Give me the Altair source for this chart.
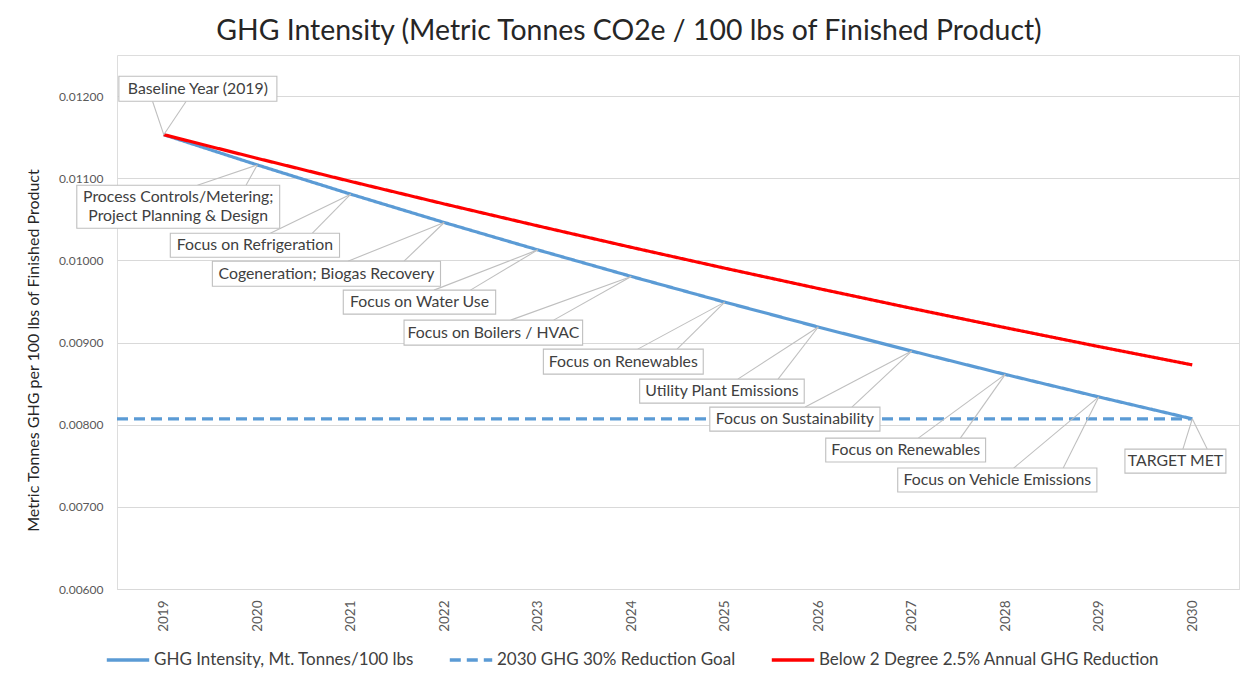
import altair as alt
import pandas as pd

# ---- series data ----
years = [2019, 2020, 2021, 2022, 2023, 2024, 2025, 2026, 2027, 2028, 2029, 2030]
ghg_intensity = [0.01153, 0.011162, 0.010806, 0.010461, 0.010128, 0.009805,
                 0.009492, 0.009189, 0.008896, 0.008612, 0.008338, 0.008071]
goal_2030 = [0.00807, 0.00807, 0.00807, 0.00807, 0.00807, 0.00807,
             0.00807, 0.00807, 0.00807, 0.00807, 0.00807, 0.00807]
below_2deg = [0.01153, 0.011242, 0.010961, 0.010687, 0.010420, 0.010159,
              0.009905, 0.009658, 0.009416, 0.009181, 0.008951, 0.008728]
series_names = ["GHG Intensity, Mt. Tonnes/100 lbs",
                "2030 GHG 30% Reduction Goal",
                "Below 2 Degree 2.5% Annual GHG Reduction"]

y_ticks = [0.006, 0.007, 0.008, 0.009, 0.010, 0.011, 0.012]

# ---- callouts (box extents and leader bases in data units) ----
callout_text = ["Baseline Year (2019)",
                "Process Controls/Metering;\nProject Planning & Design",
                "Focus on Refrigeration",
                "Cogeneration; Biogas Recovery",
                "Focus on Water Use",
                "Focus on Boilers / HVAC",
                "Focus on Renewables",
                "Utility Plant Emissions",
                "Focus on Sustainability",
                "Focus on Renewables",
                "Focus on Vehicle Emissions",
                "TARGET MET"]
box_x1 = [2018.52, 2018.07, 2019.07, 2019.52, 2020.92, 2021.57, 2023.06, 2024.09, 2024.84, 2026.08, 2026.85, 2029.28]
box_x2 = [2020.21, 2020.24, 2020.88, 2021.96, 2022.55, 2023.48, 2024.77, 2025.85, 2026.66, 2027.79, 2028.98, 2030.36]
box_top = [0.012241, 0.010915, 0.010331, 0.009990, 0.009638, 0.009273, 0.008920, 0.008555, 0.008214, 0.007837, 0.007472, 0.007703]
box_bottom = [0.011937, 0.010392, 0.010039, 0.009686, 0.009346, 0.008968, 0.008616, 0.008263, 0.007922, 0.007545, 0.007180, 0.007411]
leader_x1 = [2018.88, 2019.36, 2020.14, 2020.97, 2021.89, 2022.71, 2024.07, 2025.14, 2025.86, 2027.07, 2028.09, 2029.90]
leader_x2 = [2019.24, 2019.88, 2020.59, 2021.57, 2022.28, 2023.17, 2024.49, 2025.57, 2026.36, 2027.52, 2028.62, 2030.16]
leader_base = [0.011937, 0.010915, 0.010331, 0.009990, 0.009638, 0.009273, 0.008920, 0.008555, 0.008214, 0.007837, 0.007472, 0.007703]
line_step = 0.000232  # spacing between the two text lines of a callout, in y units

FONT = "Lato"
BLUE = "#5B9BD5"
RED = "#FF0000"
GREY = "#BFBFBF"
X_DOMAIN = [2018.5, 2030.5]

# ---- tables ----
rows = []
for name, vals in zip(series_names, [ghg_intensity, goal_2030, below_2deg]):
    for yr, v in zip(years, vals):
        rows.append({"series": name, "year": yr, "value": v})
lines_df = pd.DataFrame(rows)

# the goal line in the reference runs from the left edge of the plot
goal_df = pd.DataFrame({"x0": [X_DOMAIN[0]], "x1": [years[-1]], "v": [goal_2030[0]],
                        "series": [series_names[1]]})

boxes_df = pd.DataFrame({"x1": box_x1, "x2": box_x2, "top": box_top, "bottom": box_bottom})

text_rows = []
for lab, a, b, t, bt in zip(callout_text, box_x1, box_x2, box_top, box_bottom):
    parts = lab.split("\n")
    n = len(parts)
    for k, p in enumerate(parts):
        text_rows.append({"label": p, "xc": (a + b) / 2,
                          "yc": (t + bt) / 2 + ((n - 1) / 2 - k) * line_step})
text_df = pd.DataFrame(text_rows)

lead_rows = []
for yr, apex, xa, xb, yb in zip(years, ghg_intensity, leader_x1, leader_x2, leader_base):
    lead_rows.append({"bx": xa, "by": yb, "ax": yr, "ay": apex})
    lead_rows.append({"bx": xb, "by": yb, "ax": yr, "ay": apex})
lead_df = pd.DataFrame(lead_rows)

xscale = alt.Scale(domain=X_DOMAIN, nice=False, zero=False)
yscale = alt.Scale(domain=[0.006, 0.0125], nice=False, zero=False)

x_axis = alt.Axis(values=years, format="d", labelAngle=270, grid=False, ticks=False,
                  tickSize=0, domain=True, domainColor="#D9D9D9", labelPadding=11,
                  labelFontSize=13.5, labelColor="#595959", labelFont=FONT, title=None)
y_axis = alt.Axis(values=y_ticks, format=".5f", grid=True, gridColor="#D9D9D9",
                  ticks=False, tickSize=0, domain=False, labelPadding=14,
                  labelFontSize=12, labelColor="#595959", labelFont=FONT,
                  title="Metric Tonnes GHG per 100 lbs of Finished Product",
                  titleFont=FONT, titleFontSize=16, titleFontWeight="normal",
                  titleColor="#262626", titleAngle=270, titleX=-84, titleY=295,
                  titleAlign="center", titleBaseline="middle")

legend = alt.Legend(title=None, orient="none", legendX=-12, legendY=582,
                    direction="horizontal", symbolType="stroke", symbolSize=1800,
                    symbolStrokeWidth=3.5, labelFont=FONT, labelFontSize=17,
                    labelColor="#404040", labelLimit=600, columnPadding=28,
                    symbolOffset=0, labelOffset=3)

color_scale = alt.Scale(domain=series_names, range=[BLUE, BLUE, RED])
dash_scale = alt.Scale(domain=series_names, range=[[1, 0], [11, 6], [1, 0]])

lines = alt.Chart(lines_df).transform_filter(
    alt.datum.series != series_names[1]
).mark_line(strokeWidth=3.2, clip=False).encode(
    x=alt.X("year:Q", scale=xscale, axis=x_axis),
    y=alt.Y("value:Q", scale=yscale, axis=y_axis),
    color=alt.Color("series:N", scale=color_scale, legend=legend),
    strokeDash=alt.StrokeDash("series:N", scale=dash_scale, legend=legend),
    order=alt.Order("year:Q"),
)

goal = alt.Chart(goal_df).mark_rule(strokeWidth=3.2, color=BLUE, strokeDash=[11, 6]).encode(
    x=alt.X("x0:Q", scale=xscale),
    x2="x1:Q",
    y=alt.Y("v:Q", scale=yscale),
)

leaders = alt.Chart(lead_df).mark_rule(color=GREY, strokeWidth=1.1).encode(
    x=alt.X("bx:Q", scale=xscale),
    y=alt.Y("by:Q", scale=yscale),
    x2="ax:Q",
    y2="ay:Q",
)

boxes = alt.Chart(boxes_df).mark_rect(fill="white", stroke=GREY, strokeWidth=1.1).encode(
    x=alt.X("x1:Q", scale=xscale),
    x2="x2:Q",
    y=alt.Y("top:Q", scale=yscale),
    y2="bottom:Q",
)

texts = alt.Chart(text_df).mark_text(font=FONT, fontSize=15.8, color="#404040",
                                     align="center", baseline="middle").encode(
    x=alt.X("xc:Q", scale=xscale),
    y=alt.Y("yc:Q", scale=yscale),
    text="label:N",
)

chart = alt.layer(lines, goal, leaders, boxes, texts).resolve_scale(
    color="shared", strokeDash="shared"
).properties(
    width=1122, height=534,
    title=alt.TitleParams("GHG Intensity (Metric Tonnes CO2e / 100 lbs of Finished Product)",
                          font=FONT, fontSize=28.4, fontWeight="normal", color="#262626",
                          anchor="middle", frame="group", dx=-49, offset=9),
    autosize=alt.AutoSizeParams(type="none"),
    padding={"left": 109, "top": 47, "right": 6, "bottom": 84},
).configure_view(stroke=None).configure(background="white")

chart.save("out.html", embed_options={"renderer": "svg", "actions": False})
